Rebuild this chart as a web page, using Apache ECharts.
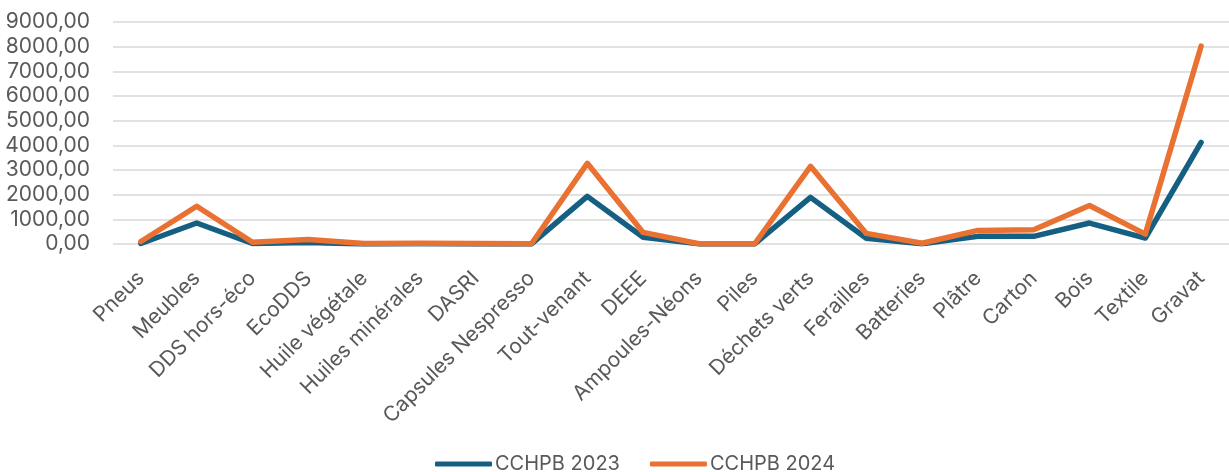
<!DOCTYPE html>
<html>
<head>
    <meta charset="utf-8">
    <title>CCHPB 2023 / 2024</title>
    <script src="https://cdn.jsdelivr.net/npm/echarts@6/dist/echarts.min.js"></script>
    <style>
        html, body { margin: 0; padding: 0; background: #ffffff; }
        #chart { width: 1229px; height: 472px; }
    </style>
</head>
<body>
<div id="chart"></div>
<script>
    // catégories de déchets
    var categories = ['Pneus', 'Meubles', 'DDS hors-éco', 'EcoDDS', 'Huile végétale', 'Huiles minérales',
        'DASRI', 'Capsules Nespresso', 'Tout-venant', 'DEEE', 'Ampoules-Néons', 'Piles', 'Déchets verts',
        'Ferailles', 'Batteries', 'Plâtre', 'Carton', 'Bois', 'Textile', 'Gravat'];

    var values2023 = [20, 850, 20, 60, 5, 10, 5, 5, 1930, 270, 5, 5, 1890, 230, 10, 310, 310, 850, 240, 4120];
    var values2024 = [100, 1530, 70, 180, 20, 30, 20, 10, 3270, 470, 10, 10, 3150, 430, 30, 550, 580, 1560, 400, 8020];

    var chart = echarts.init(document.getElementById('chart'));

    var font = 'Inter, "Noto Sans", sans-serif';

    var option = {
        animation: false,
        color: ['#156082', '#E97132'],
        textStyle: {fontFamily: font},
        legend: {
            top: 449,
            left: 430,
            itemWidth: 57,
            itemHeight: 5,
            itemGap: 30,
            icon: 'roundRect',
            textStyle: {fontSize: 20, color: '#595959', fontFamily: font, padding: [0, 0, 0, -2]},
            data: ['CCHPB 2023', 'CCHPB 2024']
        },
        grid: {left: 113, right: -7, top: 22, bottom: 228},
        xAxis: {
            type: 'category',
            data: categories,
            boundaryGap: true,
            axisLine: {show: false},
            axisTick: {show: false},
            axisLabel: {
                rotate: 45,
                interval: 0,
                margin: 31,
                fontSize: 21,
                color: '#595959',
                fontFamily: font
            }
        },
        yAxis: {
            type: 'value',
            min: 0,
            max: 9000,
            interval: 1000,
            axisLabel: {
                fontSize: 21,
                color: '#595959',
                margin: 23,
                fontFamily: font,
                formatter: function (v) {
                    return v.toFixed(2).replace('.', ',');
                }
            },
            splitLine: {lineStyle: {color: '#d9d9d9', width: 1.5}}
        },
        series: [
            {
                name: 'CCHPB 2023',
                type: 'line',
                data: values2023,
                symbol: 'none',
                lineStyle: {width: 5.5, cap: 'round', join: 'round'}
            },
            {
                name: 'CCHPB 2024',
                type: 'line',
                data: values2024,
                symbol: 'none',
                lineStyle: {width: 5.5, cap: 'round', join: 'round'}
            }
        ]
    };

    chart.setOption(option);
</script>
</body>
</html>
